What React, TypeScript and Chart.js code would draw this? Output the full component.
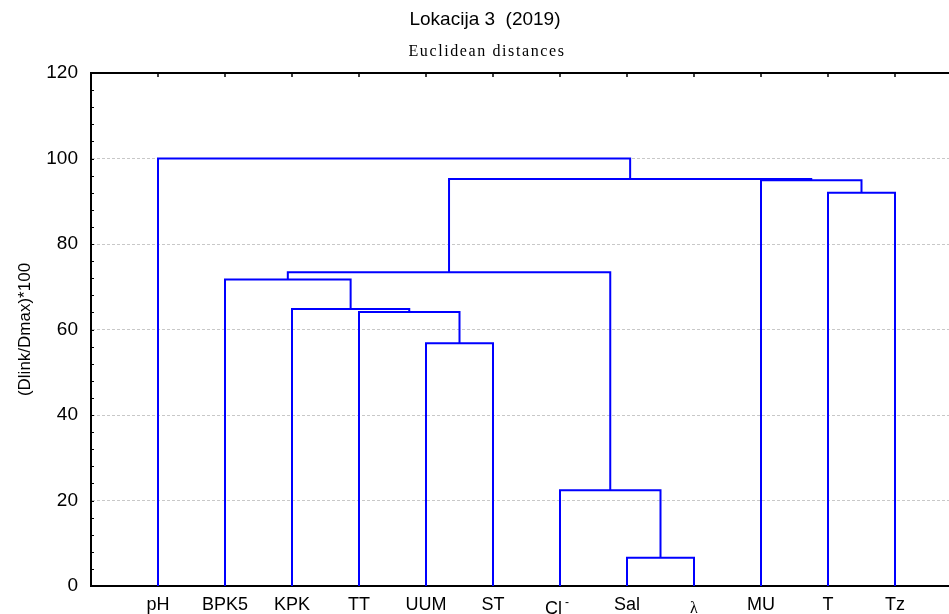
import React, { useEffect, useRef } from 'react';
import { Chart, registerables } from 'chart.js';

Chart.register(...registerables);

// Leaves of the dendrogram, in display order
const leaves = ['pH', 'BPK5', 'KPK', 'TT', 'UUM', 'ST', 'Cl⁻', 'Sal', 'λ', 'MU', 'T', 'Tz'];
// Merge k creates node (leaves.length + k); children refer to leaf or node ids
const mergeLeft = [7, 6, 4, 3, 2, 1, 17, 10, 9, 18, 0];
const mergeRight = [8, 12, 5, 14, 15, 16, 13, 11, 19, 20, 21];
const mergeHeight = [6.6, 22.4, 56.8, 64.1, 64.8, 71.7, 73.4, 92.0, 94.9, 95.2, 100];
const yTickLabels = [0, 20, 40, 60, 80, 100, 120];
const yMinorStep = 4;
const titleText = 'Lokacija 3  (2019)';
const subtitleText = 'Euclidean distances';
const yAxisTitle = '(Dlink/Dmax)*100';

const SANS = "'Liberation Sans', Arial, sans-serif";
const SERIF = "'Liberation Serif', 'Times New Roman', serif";
const LINE_COLOR = '#0000ff';

function buildSegments() {
  const n = leaves.length;
  const xs: number[] = leaves.map((_, i) => i + 1);
  const hs: number[] = leaves.map(() => 0);
  const sets: { x: number; y: number }[][] = [];
  for (let k = 0; k < mergeHeight.length; k++) {
    const l = mergeLeft[k];
    const r = mergeRight[k];
    const h = mergeHeight[k];
    sets.push([
      { x: xs[l], y: hs[l] },
      { x: xs[l], y: h },
      { x: xs[r], y: h },
      { x: xs[r], y: hs[r] },
    ]);
    xs[n + k] = (xs[l] + xs[r]) / 2;
    hs[n + k] = h;
  }
  return sets;
}

const decorPlugin = {
  id: 'decor',
  afterDraw(chart: any) {
    const { ctx, chartArea, scales } = chart;
    const { left, right, top } = chartArea;
    ctx.save();
    // titles
    ctx.fillStyle = '#000';
    ctx.textAlign = 'center';
    ctx.textBaseline = 'middle';
    ctx.font = `19px ${SANS}`;
    ctx.fillText(titleText, 485, 20);
    ctx.font = `16px ${SERIF}`;
    try {
      (ctx as any).letterSpacing = '1.6px';
    } catch (e) {}
    ctx.fillText(subtitleText, 487, 52);
    try {
      (ctx as any).letterSpacing = '0px';
    } catch (e) {}

    // x tick labels
    ctx.textBaseline = 'alphabetic';
    leaves.forEach((name, i) => {
      const x = scales.x.getPixelForValue(i + 1);
      if (name === 'Cl⁻') {
        ctx.font = `18px ${SANS}`;
        ctx.textAlign = 'right';
        ctx.fillText('Cl', x + 2, 614);
        ctx.font = `12px ${SANS}`;
        ctx.textAlign = 'left';
        ctx.fillText('-', x + 5, 606);
      } else if (name === 'λ') {
        ctx.font = `16px ${SERIF}`;
        ctx.textAlign = 'center';
        ctx.fillText(name, x, 613);
      } else {
        ctx.font = `18px ${SANS}`;
        ctx.textAlign = 'center';
        ctx.fillText(name, x, 610);
      }
    });

    // top frame line
    ctx.strokeStyle = '#000';
    ctx.lineWidth = 2;
    ctx.beginPath();
    ctx.moveTo(left - 1, top);
    ctx.lineTo(right, top);
    ctx.stroke();
    // top ticks at leaf positions
    ctx.lineWidth = 1.5;
    leaves.forEach((_, i) => {
      const x = scales.x.getPixelForValue(i + 1);
      ctx.beginPath();
      ctx.moveTo(x, top);
      ctx.lineTo(x, top + 4);
      ctx.stroke();
    });
    // inner minor ticks on the y axis
    ctx.lineWidth = 1;
    const yMax = yTickLabels[yTickLabels.length - 1];
    for (let v = 0; v <= yMax; v += yMinorStep) {
      const y = Math.round(scales.y.getPixelForValue(v)) + 0.5;
      ctx.beginPath();
      ctx.moveTo(left, y);
      ctx.lineTo(left + 3, y);
      ctx.stroke();
    }
    ctx.restore();
  },
};

export default function App() {
  const ref = useRef<HTMLCanvasElement | null>(null);

  useEffect(() => {
    if (!ref.current) return;
    const segs = buildSegments();
    const yMax = yTickLabels[yTickLabels.length - 1];
    const chart = new Chart(ref.current, {
      type: 'line',
      data: {
        datasets: segs.map((d) => ({
          data: d,
          borderColor: LINE_COLOR,
          borderWidth: 2,
          pointRadius: 0,
          fill: false,
          tension: 0,
        })),
      },
      options: {
        animation: false,
        responsive: false,
        events: [],
        layout: { padding: { left: 0, top: 73, right: 38, bottom: 0 } },
        plugins: {
          legend: { display: false },
          tooltip: { enabled: false },
          title: { display: false },
        },
        scales: {
          x: {
            type: 'linear',
            min: 0,
            max: leaves.length + 1,
            afterBuildTicks: (s: any) => {
              s.ticks = leaves.map((_, i) => ({ value: i + 1 }));
            },
            afterFit: (s: any) => {
              s.height = 28;
            },
            ticks: { display: false },
            grid: { display: false, drawTicks: false },
            border: { display: true, color: '#000', width: 2 },
          },
          y: {
            type: 'linear',
            min: 0,
            max: yMax,
            afterBuildTicks: (s: any) => {
              const t = [];
              for (let v = 0; v <= yMax; v += yMinorStep) t.push({ value: v });
              s.ticks = t;
            },
            afterFit: (s: any) => {
              s.width = 91;
            },
            ticks: {
              autoSkip: false,
              padding: 13,
              color: '#000',
              font: { family: SANS, size: 19 },
              callback: (v: any) => (yTickLabels.includes(v) ? String(v) : ''),
            },
            grid: {
              drawTicks: false,
              lineWidth: 1,
              color: (ctx: any) => {
                const v = ctx.tick ? ctx.tick.value : -1;
                return yTickLabels.includes(v) && v !== 0 && v !== yMax ? '#c8c8c8' : 'rgba(0,0,0,0)';
              },
            },
            border: { display: true, color: '#000', width: 2, dash: [3, 2] },
            title: {
              display: true,
              text: yAxisTitle,
              color: '#000',
              font: { family: SANS, size: 17 },
              padding: { top: 15, bottom: 0 },
            },
          },
        },
      },
      plugins: [decorPlugin],
    });
    return () => chart.destroy();
  }, []);

  return (
    <div
      style={{
        position: 'absolute',
        left: 0,
        top: 0,
        width: 949,
        height: 614,
        overflow: 'hidden',
        background: '#fff',
      }}
    >
      <canvas ref={ref} width={1000} height={614} style={{ display: 'block' }} />
    </div>
  );
}
